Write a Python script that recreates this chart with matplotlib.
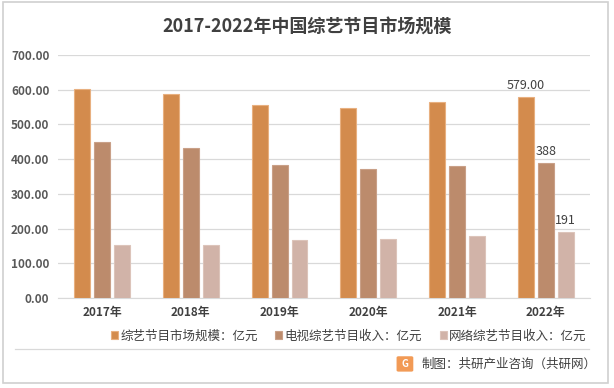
import matplotlib
matplotlib.use("Agg")
import matplotlib.pyplot as plt
import numpy as np
from matplotlib.patches import Rectangle, FancyBboxPatch
from matplotlib.lines import Line2D

plt.rcParams['font.family'] = ['Noto Sans CJK SC', 'DejaVu Sans']

years = ["2017年", "2018年", "2019年", "2020年", "2021年", "2022年"]
market = [603, 587, 555, 547, 564, 579]
tv = [450, 432, 384, 372, 381, 388]
web = [153, 153, 168, 171, 179, 191]
names = ["综艺节目市场规模：亿元", "电视综艺节目收入：亿元", "网络综艺节目收入：亿元"]
colors = ["#D38B4D", "#BC8B6C", "#D1B3A8"]
edges = ["#E8B080", "#C9A088", "#DCC4BA"]

fig = plt.figure(figsize=(6.14, 3.88), dpi=100)
ax = fig.add_axes([0.094, 0.232, 0.867, 0.626])

x = np.arange(len(years))
w = 0.18
for j, vals in enumerate([market, tv, web]):
    ax.bar(x + (j - 1) * (w + 0.045), vals, w, color=colors[j], edgecolor=edges[j],
           lw=0.8, label=names[j], zorder=3)

# labels on the last group only
lab = ["579.00", "388", "191"]
for j, vals in enumerate([market, tv, web]):
    ax.text(x[-1] + (j - 1) * (w + 0.045), vals[-1] + 14, lab[j], ha="center", va="bottom",
            fontsize=9, color="#404040")

ax.set_xlim(-0.5, len(years) - 0.5)
ax.set_ylim(0, 700)
ax.set_yticks(np.arange(0, 701, 100))
ax.set_yticklabels([f"{v:.2f}" for v in range(0, 701, 100)], fontsize=8.5,
                   color="#595959", fontweight="bold")
ax.set_xticks(x)
ax.set_xticklabels(years, fontsize=8.5, color="#404040", fontweight="bold")
ax.grid(axis="y", color="#D9D9D9", lw=0.9, zorder=0)
for s in ["top", "right", "left"]:
    ax.spines[s].set_visible(False)
ax.spines["bottom"].set_color("#D9D9D9")
ax.tick_params(length=0, pad=6)

fig.text(0.5, 0.929, "2017-2022年中国综艺节目市场规模", ha="center", va="center",
         fontsize=13, fontweight="bold", color="#404040")

leg = fig.legend(loc="center", bbox_to_anchor=(0.568, 0.134), ncol=3, frameon=False,
                 fontsize=9, handlelength=0.55, handleheight=0.55, handletextpad=0.2,
                 columnspacing=1.4)
for t in leg.get_texts():
    t.set_color("#404040")

# separator line
fig.lines.append(Line2D([0.024, 0.959], [0.101, 0.101], transform=fig.transFigure,
                        color="#D9D9D9", lw=0.9))

# source line with small logo
fig.patches.append(FancyBboxPatch((0.649, 0.046), 0.021, 0.032, boxstyle="round,pad=0.002",
                                  transform=fig.transFigure, color="#F29A55", zorder=5))
fig.text(0.6595, 0.062, "G", ha="center", va="center", fontsize=7, fontweight="bold",
         color="white", zorder=6)
fig.text(0.686, 0.062, "制图：共研产业咨询（共研网）", ha="left", va="center",
         fontsize=9, color="#404040")

fig.patches.append(Rectangle((0.005, 0.013), 0.985, 0.982, transform=fig.transFigure,
                             fill=False, ec="#D0D0D0", lw=1.2))
fig.savefig("out.png", dpi=100)
